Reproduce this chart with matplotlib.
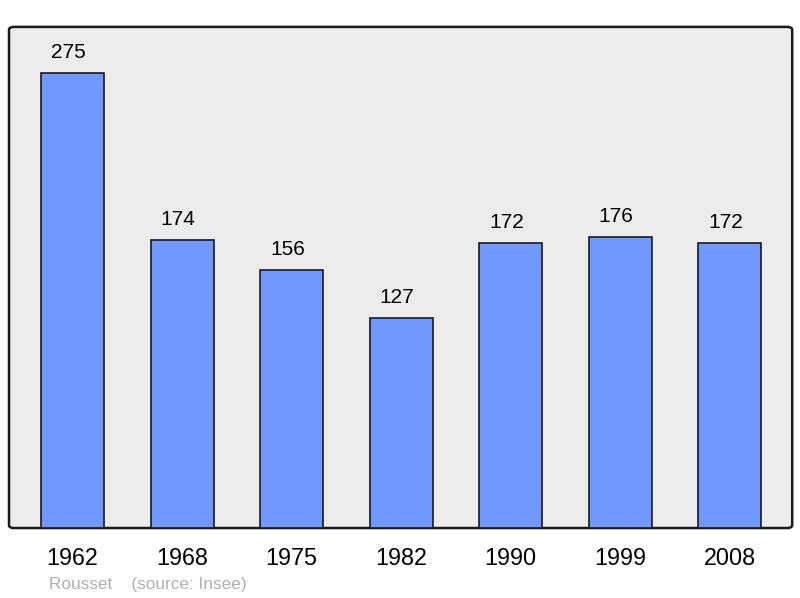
import matplotlib.pyplot as plt
from matplotlib.patches import FancyBboxPatch

years = ['1962', '1968', '1975', '1982', '1990', '1999', '2008']
population = [275, 174, 156, 127, 172, 176, 172]

plt.rcParams['font.family'] = ['Liberation Sans', 'DejaVu Sans']

fig = plt.figure(figsize=(8, 5.98), dpi=100)
ax = fig.add_axes([0.01125, 0.117, 0.979, 0.838])
ax.set_facecolor('none')
ax.set_xlim(-0.58, 6.57)
ax.set_ylim(0, 302.8)

# rounded frame
frame = FancyBboxPatch((0, 0), 1, 1, boxstyle='round,pad=0,rounding_size=0.006',
                       transform=ax.transAxes, facecolor='#ececec',
                       edgecolor='#1a1a1a', linewidth=1.8, zorder=0,
                       clip_on=False)
ax.add_patch(frame)

x = range(len(years))
ax.bar(x, population, width=0.575, color='#7098ff', edgecolor='#1a1a1a',
       linewidth=1.2, zorder=2)

for i, v in enumerate(population):
    ax.annotate(str(v), (i, v), xytext=(-3, 8), textcoords='offset points',
                ha='center', va='bottom', fontsize=15, color='#000000')

for s in ax.spines.values():
    s.set_visible(False)
ax.set_yticks([])
ax.set_xticks(list(x))
ax.set_xticklabels(years, fontsize=16.8)
ax.tick_params(axis='x', length=0, pad=14)

fig.text(49 / 800, 1 - 584 / 598, 'Rousset    (source: Insee)', fontsize=12.4,
         color='#b0b0b0', ha='left', va='center')

fig.savefig('out.png', dpi=100)
